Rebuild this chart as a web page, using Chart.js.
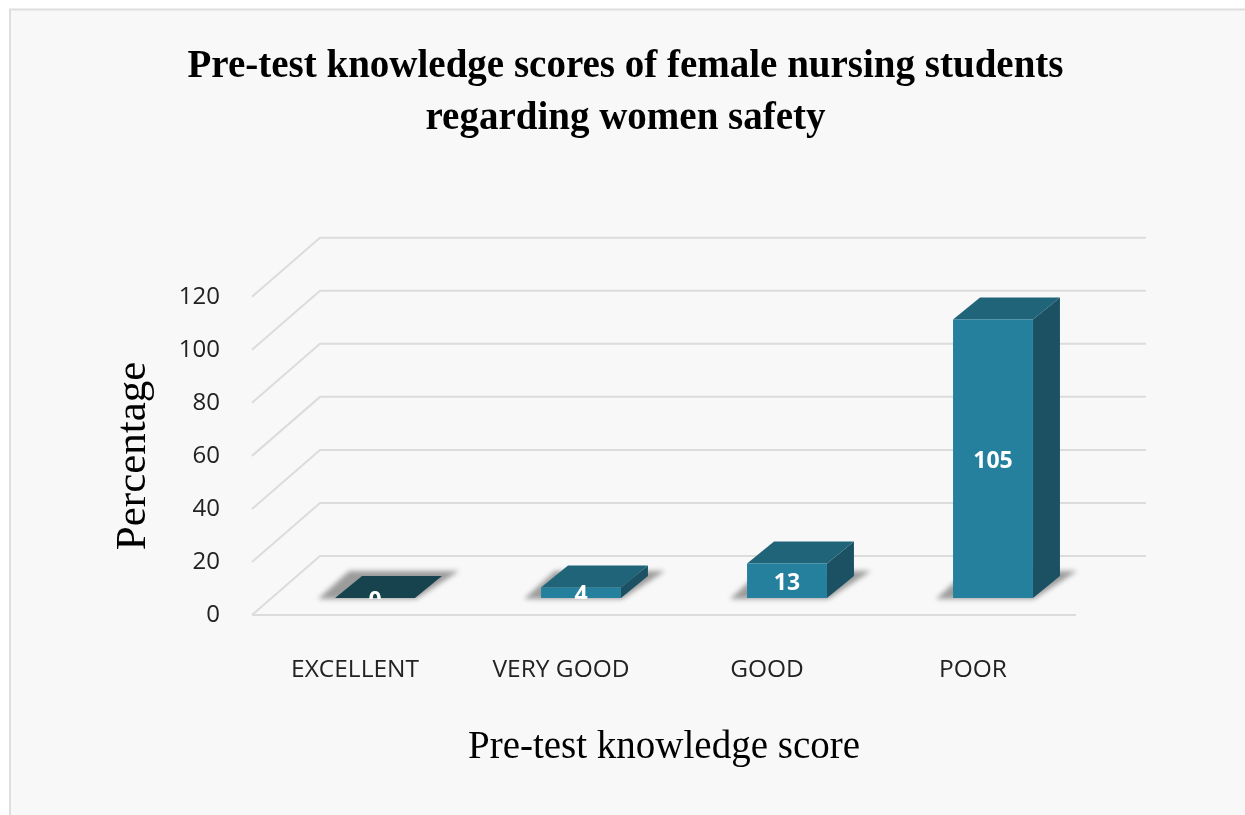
<!DOCTYPE html>
<html><head><meta charset="utf-8">
<style>html,body{margin:0;padding:0;background:#fff}canvas{display:block}</style>
<script src="https://cdn.jsdelivr.net/npm/chart.js@4"></script>
</head><body>
<div style="width:1245px;height:815px"><canvas id="c" width="1245" height="815"></canvas></div>
<script>
const categories = ["EXCELLENT", "VERY GOOD", "GOOD", "POOR"];
const scores = [0, 4, 13, 105];
const titleLines = ["Pre-test knowledge scores of female nursing students", "regarding women safety"];
const xTitle = "Pre-test knowledge score";
const yTitle = "Percentage";

const FRONT = "#25809e", TOP = "#1f6478", SIDE = "#1b5163", FLAT = "#17434f";
const GRID = "#dcdcdc";
const WALL = {dx: 68, dy: 59};   // depth of the chart box
const BAR = {dx: 20, dy: 17, ddx: 27, ddy: 22}; // bar position in the box and bar depth

const threeD = {
  id: "threeD",
  beforeDraw(chart) {
    const c = chart.ctx;
    c.save();
    c.fillStyle = "#f8f8f8";
    c.fillRect(10, 9, 1235, 806);
    c.strokeStyle = "#dedede"; c.lineWidth = 2;
    c.beginPath(); c.moveTo(10, 815); c.lineTo(10, 9.5); c.lineTo(1245, 9.5); c.stroke();
    c.restore();
  },
  beforeDatasetsDraw(chart) {
    const c = chart.ctx, y = chart.scales.y, a = chart.chartArea;
    c.save();
    c.strokeStyle = GRID; c.lineWidth = 2;
    y.ticks.forEach(t => {
      const p = y.getPixelForValue(t.value);
      c.beginPath();
      c.moveTo(a.left, p);
      c.lineTo(a.left + WALL.dx, p - WALL.dy);
      c.lineTo(a.right + WALL.dx + 2, p - WALL.dy);
      c.stroke();
    });
    c.beginPath(); c.moveTo(a.left, a.bottom); c.lineTo(a.right, a.bottom); c.stroke();

    const bars = chart.getDatasetMeta(0).data;
    bars.forEach((el, i) => {
      const x0 = el.x - el.width / 2 + BAR.dx, x1 = el.x + el.width / 2 + BAR.dx;
      const yt = el.y - BAR.dy, yb = el.base - BAR.dy;
      c.save();
      c.filter = "blur(2.5px)";
      c.fillStyle = "#9c9c9c";
      c.beginPath();
      c.moveTo(x0 - 17, yb + 1); c.lineTo(x1 + 1, yb + 1);
      c.lineTo(x1 + 44, yb - 27); c.lineTo(x0 + 14, yb - 27);
      c.closePath(); c.fill();
      c.restore();

      c.fillStyle = SIDE;
      c.beginPath();
      c.moveTo(x1, yt); c.lineTo(x1 + BAR.ddx, yt - BAR.ddy);
      c.lineTo(x1 + BAR.ddx, yb - BAR.ddy); c.lineTo(x1, yb);
      c.closePath(); c.fill();

      c.fillStyle = scores[i] === 0 ? FLAT : TOP;
      c.beginPath();
      c.moveTo(x0, yt); c.lineTo(x1, yt);
      c.lineTo(x1 + BAR.ddx, yt - BAR.ddy); c.lineTo(x0 + BAR.ddx, yt - BAR.ddy);
      c.closePath(); c.fill();
    });
    c.restore();
    c.save();
    c.translate(BAR.dx, -BAR.dy);
  },
  afterDatasetsDraw(chart) {
    const c = chart.ctx;
    c.restore();
    c.save();
    c.fillStyle = "#fff";
    c.font = "bold 23px 'Open Sans'";
    c.textAlign = "center"; c.textBaseline = "middle";
    chart.getDatasetMeta(0).data.forEach((el, i) => {
      const yt = el.y - BAR.dy, yb = el.base - BAR.dy;
      c.save();
      c.beginPath(); c.rect(el.x - 60, 0, 160, yb + 1); c.clip();
      c.fillText(String(scores[i]), el.x + BAR.dx, (yt + yb) / 2 + 3);
      c.restore();
    });
    c.restore();
  }
};

new Chart(document.getElementById("c"), {
  type: "bar",
  plugins: [threeD],
  data: {
    labels: categories,
    datasets: [{
      data: scores,
      backgroundColor: FRONT,
      borderWidth: 0,
      barPercentage: 0.388,
      categoryPercentage: 1,
      clip: false
    }]
  },
  options: {
    responsive: false,
    animation: false,
    layout: {padding: {left: 6, right: 0, top: 0, bottom: 0}},
    plugins: {
      legend: {display: false},
      tooltip: {enabled: false},
      title: {
        display: true,
        text: titleLines,
        color: "#000",
        font: {family: "'Liberation Serif'", size: 39, weight: "bold", lineHeight: 1.33},
        padding: {top: 41, bottom: 152}
      }
    },
    scales: {
      x: {
        grid: {display: false},
        border: {display: false},
        ticks: {color: "#222", padding: 32, maxRotation: 0, font: {family: "'Open Sans'", size: 24.5}},
        title: {display: true, text: xTitle, color: "#000", padding: {top: 0, bottom: 44},
                font: {family: "'Liberation Serif'", size: 39}},
        afterFit(s) { s.height = 200; }
      },
      y: {
        min: 0, max: 120,
        grid: {display: false},
        border: {display: false},
        ticks: {stepSize: 20, color: "#222", padding: 24, font: {family: "'Open Sans'", size: 24}},
        title: {display: true, text: yTitle, color: "#000", padding: {top: 102, bottom: 0},
                font: {family: "'Liberation Serif'", size: 43}},
        afterFit(s) { s.width = 246; }
      },
      rightGap: {
        position: "right",
        grid: {display: false},
        border: {display: false},
        ticks: {display: false},
        afterFit(s) { s.width = 169; }
      }
    }
  }
});
</script>
</body></html>
